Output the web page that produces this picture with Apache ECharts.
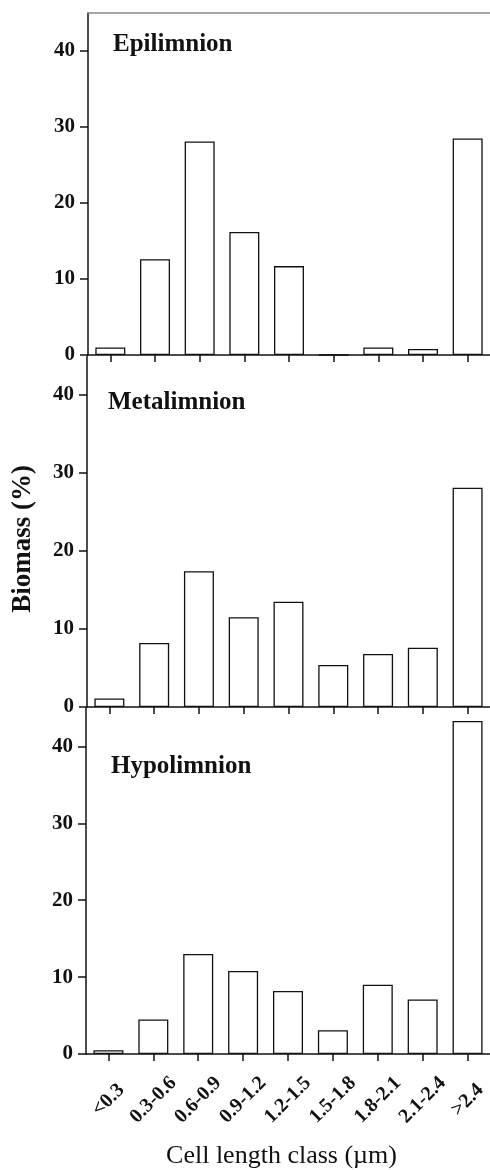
<!DOCTYPE html>
<html>
<head>
<meta charset="utf-8">
<script src="https://cdn.jsdelivr.net/npm/echarts@6/dist/echarts.min.js"></script>
<style>
html,body{margin:0;padding:0;background:#fff;}
#chart{width:490px;height:1170px;}
</style>
</head>
<body>
<div id="chart"></div>
<script>
const categories = ['<0.3','0.3-0.6','0.6-0.9','0.9-1.2','1.2-1.5','1.5-1.8','1.8-2.1','2.1-2.4','>2.4'];
const epilimnion = [1.0, 12.6, 28.1, 16.2, 11.7, 0, 1.0, 0.8, 28.5];
const metalimnion = [1.1, 8.2, 17.4, 11.5, 13.5, 5.4, 6.8, 7.6, 28.1];
const hypolimnion = [0.5, 4.5, 13.0, 10.8, 8.2, 3.1, 9.0, 7.1, 43.3];
const yTicks = [0, 10, 20, 30, 40];
const panelNames = ['Epilimnion', 'Metalimnion', 'Hypolimnion'];
const yTitle = 'Biomass (%)';
const xTitle = 'Cell length class (\u00b5m)';

const FONT = '"Liberation Serif","Times New Roman",serif';
const panels = [epilimnion, metalimnion, hypolimnion];
const gridDefs = [
  {left: 88, top: 13, width: 405, height: 342},
  {left: 87, top: 356, width: 405, height: 351},
  {left: 86, top: 708, width: 405, height: 346}
];
const labelPos = [[113, 45], [108, 403], [111, 766.5]];

const chart = echarts.init(document.getElementById('chart'), null, {renderer: 'canvas'});

const xAxes = panels.map((_, i) => ({
  type: 'category',
  data: categories,
  gridIndex: i,
  boundaryGap: true,
  axisLine: {show: true, lineStyle: {color: '#111', width: 1.5}},
  axisTick: {show: true, alignWithLabel: true, inside: false, length: 7, lineStyle: {color: '#111', width: 1.5}},
  axisLabel: {
    show: i === 2,
    interval: 0,
    rotate: 45,
    align: 'center',
    verticalAlign: 'middle',
    margin: 46,
    fontFamily: FONT,
    fontWeight: 'bold',
    fontSize: 20,
    color: '#111'
  },
  splitLine: {show: false}
}));
xAxes.push({
  type: 'category',
  data: categories,
  gridIndex: 0,
  position: 'top',
  axisLine: {show: true, lineStyle: {color: '#888', width: 1.5}},
  axisTick: {show: false},
  axisLabel: {show: false},
  splitLine: {show: false}
});

const yAxes = panels.map((_, i) => ({
  type: 'value',
  gridIndex: i,
  min: 0,
  max: 45,
  interval: 10,
  axisLine: {show: true, lineStyle: {color: '#111', width: 1.5}},
  axisTick: {show: true, customValues: yTicks, length: 8, lineStyle: {color: '#111', width: 1.5}},
  axisLabel: {
    show: true,
    customValues: yTicks,
    margin: 13,
    fontFamily: FONT,
    fontWeight: 'bold',
    fontSize: 21,
    color: '#111',
    formatter: v => (v > 40 ? '' : String(v))
  },
  splitLine: {show: false}
}));

const series = panels.map((d, i) => ({
  type: 'bar',
  xAxisIndex: i,
  yAxisIndex: i,
  data: d,
  barWidth: 30,
  itemStyle: {color: '#fff', borderColor: '#111', borderWidth: 1.3},
  silent: true
}));

const graphics = panelNames.map((name, i) => ({
  type: 'text',
  x: labelPos[i][0],
  y: labelPos[i][1],
  style: {
    text: name,
    font: 'bold 25px ' + FONT,
    fill: '#111',
    textAlign: 'left',
    textVerticalAlign: 'middle'
  }
}));
graphics.push({
  type: 'text',
  x: 23.3,
  y: 539,
  rotation: Math.PI / 2,
  style: {
    text: yTitle,
    font: 'bold 27px ' + FONT,
    fill: '#111',
    textAlign: 'center',
    textVerticalAlign: 'middle'
  }
});
graphics.push({
  type: 'text',
  x: 281.5,
  y: 1156,
  style: {
    text: xTitle,
    font: '26px ' + FONT,
    fill: '#111',
    textAlign: 'center',
    textVerticalAlign: 'middle'
  }
});

chart.setOption({
  animation: false,
  backgroundColor: '#fff',
  grid: gridDefs.map(g => Object.assign({containLabel: false}, g)),
  xAxis: xAxes,
  yAxis: yAxes,
  series: series,
  graphic: graphics
});
</script>
</body>
</html>
